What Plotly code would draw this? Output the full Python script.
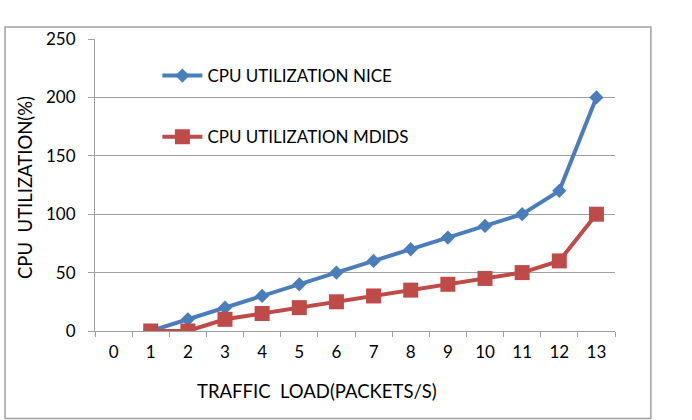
import plotly.graph_objects as go

categories = [str(i) for i in range(0, 14)]
x_vals = ["1", "2", "3", "4", "5", "6", "7", "8", "9", "10", "11", "12", "13"]
nice = [0, 10, 20, 30, 40, 50, 60, 70, 80, 90, 100, 120, 200]
mdids = [0, 0, 10, 15, 20, 25, 30, 35, 40, 45, 50, 60, 100]
y_ticks = [0, 50, 100, 150, 200, 250]

FONT = "Lato, 'Open Sans', sans-serif"
GRID = "#a0a0a0"

fig = go.Figure()
fig.add_trace(go.Scatter(
    x=x_vals, y=nice, mode="lines+markers", name="CPU UTILIZATION NICE",
    legendgroup="a",
    line=dict(color="#4a7ebb", width=4),
    marker=dict(symbol="diamond", size=11, color="#4a7ebb"),
))
fig.add_trace(go.Scatter(
    x=x_vals, y=mdids, mode="lines+markers", name="CPU UTILIZATION MDIDS",
    legendgroup="b",
    line=dict(color="#be4b48", width=4),
    marker=dict(symbol="square", size=15, color="#be4b48"),
))

fig.update_layout(
    width=692, height=420,
    margin=dict(l=95, r=77, t=39, b=89),
    paper_bgcolor="white", plot_bgcolor="white",
    font=dict(family=FONT, size=17, color="black"),
    showlegend=True,
    legend=dict(x=0.12, y=0.935, xanchor="left", yanchor="top",
                bgcolor="rgba(0,0,0,0)", tracegroupgap=36,
                itemwidth=40, font=dict(size=17)),
    xaxis=dict(type="category", categoryorder="array", categoryarray=categories,
               range=[-0.5, 13.5], showgrid=False, showline=True, linecolor=GRID,
               linewidth=1, ticks="outside", tickson="boundaries", ticklen=5,
               tickcolor=GRID, zeroline=False, ticklabelstandoff=6,
               tickfont=dict(size=17)),
    yaxis=dict(range=[0, 250], tickvals=y_ticks, showgrid=True, gridcolor=GRID,
               gridwidth=1, showline=True, linecolor=GRID, linewidth=1,
               ticks="outside", ticklen=6, tickcolor=GRID, zeroline=False,
               ticklabelstandoff=9, tickfont=dict(size=17)),
    shapes=[dict(type="rect", xref="paper", yref="paper",
                 x0=-0.173, x1=1.069, y0=-0.2996, y1=1.0412,
                 line=dict(color="#a0a0a0", width=1.5), fillcolor="rgba(0,0,0,0)")],
    annotations=[
        dict(text="TRAFFIC\u00a0\u00a0LOAD(PACKETS/S)", xref="paper", yref="paper",
             x=(317 - 95) / 520, y=(330.7 - 391) / 291.4, showarrow=False,
             xanchor="center", yanchor="middle", font=dict(size=18.5)),
        dict(text="CPU\u00a0\u00a0UTILIZATION(%)", xref="paper", yref="paper",
             x=(25 - 95) / 520, y=(330.7 - 188) / 291.4, showarrow=False,
             textangle=-90, xanchor="center", yanchor="middle", font=dict(size=18.5)),
    ],
)

fig.write_html("out.html")
